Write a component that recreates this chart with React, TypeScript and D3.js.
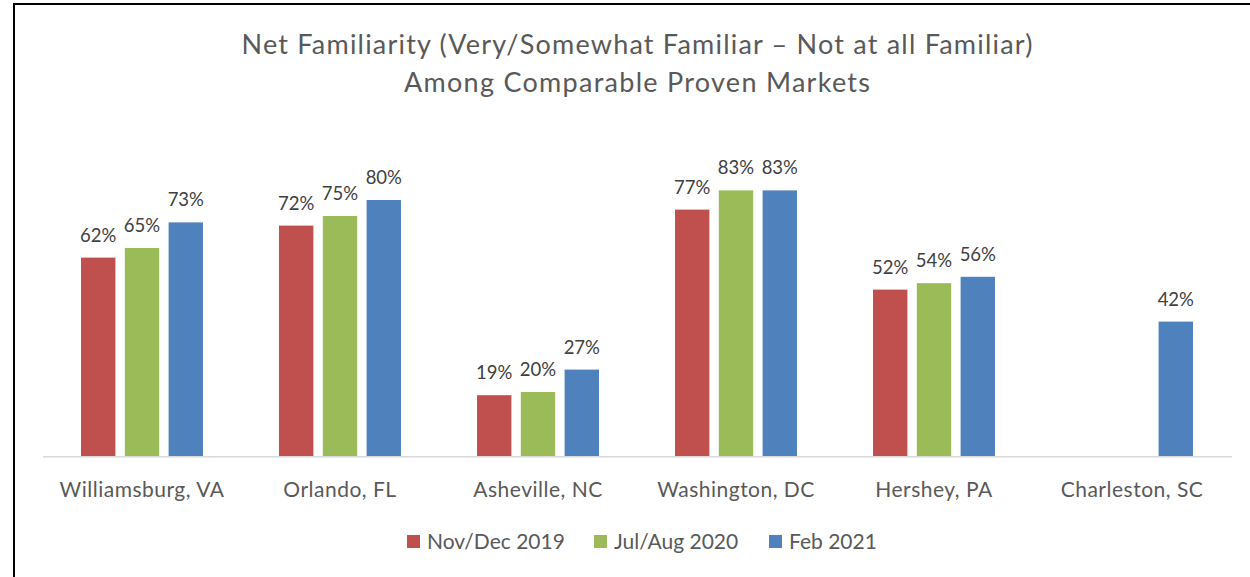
import React from "react";
import * as d3 from "d3";

const categories = ["Williamsburg, VA", "Orlando, FL", "Asheville, NC", "Washington, DC", "Hershey, PA", "Charleston, SC"];
const seriesNames = ["Nov/Dec 2019", "Jul/Aug 2020", "Feb 2021"];
const nov2019: (number | null)[] = [62, 72, 19, 77, 52, null];
const jul2020: (number | null)[] = [65, 75, 20, 83, 54, null];
const feb2021: (number | null)[] = [73, 80, 27, 83, 56, 42];
const seriesColors = ["#C0504D", "#9BBB59", "#4F81BD"];
const titleLines = ["Net Familiarity (Very/Somewhat Familiar \u2013 Not at all Familiar)", "Among Comparable Proven Markets"];

const W = 1250;
const H = 577;
const FONT = "Lato, 'Noto Sans', sans-serif";
const titleWidths = [791, 466];
const titleBaselines = [53.5, 92];

export default function App() {
  const values = [nov2019, jul2020, feb2021];
  const x0 = d3.scaleBand<string>().domain(categories).range([43, 1231]).paddingInner(0.384).paddingOuter(0.192);
  const x1 = d3.scaleBand<string>().domain(seriesNames).range([0, x0.bandwidth()]).paddingInner(0.215).paddingOuter(0);
  const y = d3.scaleLinear().domain([0, 100]).range([456, 136]);

  const legendX = [407, 594, 769];

  return (
    <svg width={W} height={H} style={{ position: "absolute", left: 0, top: 0, background: "#fff" }} fontFamily={FONT}>
      <rect x={0} y={0} width={W} height={H} fill="#fff" />
      <line x1={14} y1={4} x2={W} y2={4} stroke="#000" strokeWidth={2} />
      <line x1={14} y1={3} x2={14} y2={H} stroke="#000" strokeWidth={2} />
      {titleLines.map((t, i) => (
        <text
          key={i}
          x={637 - titleWidths[i] / 2}
          y={titleBaselines[i]}
          fontSize={27}
          fill="#595959"
          textLength={titleWidths[i]}
          lengthAdjust="spacing"
        >
          {t}
        </text>
      ))}
      <line x1={43} x2={1232} y1={456.75} y2={456.75} stroke="#D9D9D9" strokeWidth={1.5} />
      {categories.map((c, ci) => (
        <g key={c} transform={`translate(${x0(c)},0)`}>
          {seriesNames.map((s, si) => {
            const v = values[si][ci];
            if (v == null) return null;
            const bx = x1(s)!;
            const bw = x1.bandwidth();
            return (
              <g key={s}>
                <rect x={bx} y={y(v)} width={bw} height={y(0) - y(v)} fill={seriesColors[si]} />
                <text x={bx + bw / 2} y={y(v) - 16} textAnchor="middle" fontSize={18.5} fill="#404040">
                  {d3.format("d")(v)}%
                </text>
              </g>
            );
          })}
          <text x={x0.bandwidth() / 2} y={497} textAnchor="middle" fontSize={21} letterSpacing={0.5} fill="#595959">
            {c}
          </text>
        </g>
      ))}
      {seriesNames.map((s, i) => (
        <g key={s} transform={`translate(${legendX[i]},0)`}>
          <rect x={0} y={535} width={13} height={13} fill={seriesColors[i]} />
          <text x={20} y={549} fontSize={21} fill="#595959">
            {s}
          </text>
        </g>
      ))}
    </svg>
  );
}
